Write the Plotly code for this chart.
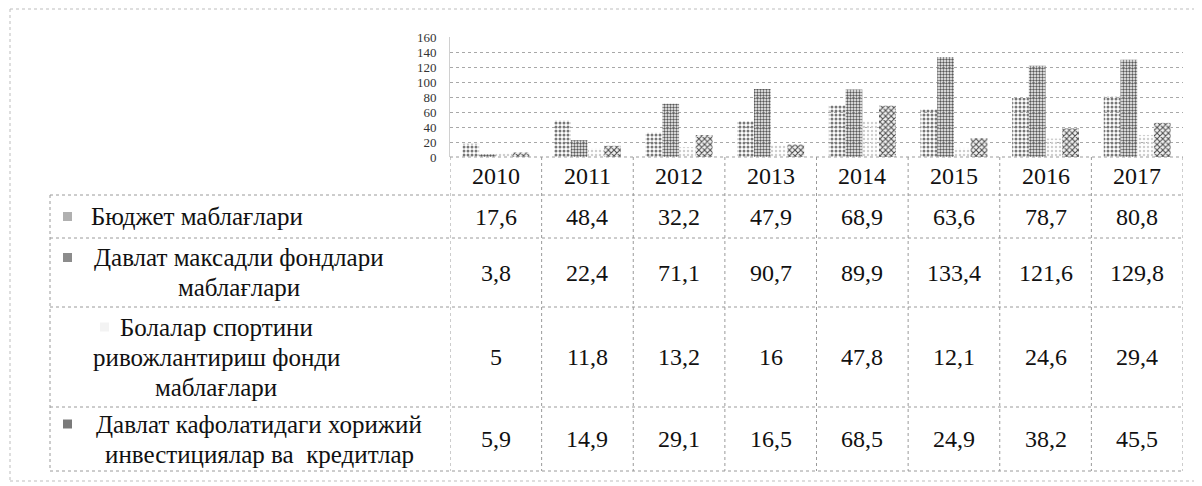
import plotly.graph_objects as go

# Daten (Mlrd. so'm)
years = ["2010", "2011", "2012", "2013", "2014", "2015", "2016", "2017"]
budget = [17.6, 48.4, 32.2, 47.9, 68.9, 63.6, 78.7, 80.8]
target_funds = [3.8, 22.4, 71.1, 90.7, 89.9, 133.4, 121.6, 129.8]
children_fund = [5, 11.8, 13.2, 16, 47.8, 12.1, 24.6, 29.4]
foreign_inv = [5.9, 14.9, 29.1, 16.5, 68.5, 24.9, 38.2, 45.5]

series_names = [
    ["Бюджет маблағлари"],
    ["Давлат максадли фондлари", "маблағлари"],
    ["Болалар спортини", "ривожлантириш фонди", "маблағлари"],
    ["Давлат кафолатидаги хорижий", "инвестициялар ва  кредитлар"],
]
series_values = [budget, target_funds, children_fund, foreign_inv]

# Layout (Pixel im Bild; die Seite hat 8px Rand)
W, H = 1202, 486
OFF = 8
def fx(px):
    return (px - OFF) / W
def fy(py):
    return 1 - (py - OFF) / H

plot_left, plot_right, plot_top, plot_bottom = 450, 1183, 37, 157
table_left = 50
row_edges = [157, 195, 238, 307, 407, 471]
label_cx = [197, 239, 216, 259]
key_x = [63, 63, 100, 63]
line_h = 30
font = "Liberation Serif"
fs_val = 24
fs_lab = 25

styles = [
    dict(color="#b0b0b0", pattern=dict(shape=".", fgcolor="#777777", size=4, solidity=0.45)),
    dict(color="#a0a0a0", pattern=dict(shape=".", fgcolor="#585858", size=3, solidity=0.5)),
    dict(color="#e2e2e2", pattern=dict(shape=".", fgcolor="#cfcfcf", size=4, solidity=0.3)),
    dict(color="#ffffff", pattern=dict(shape="x", fgcolor="#4a4a4a", bgcolor="#f2f2f2", size=4, solidity=0.45)),
]
key_colors = ["#b0b0b0", "#8c8c8c", "#f3f3f3", "#7a7a7a"]

fig = go.Figure()
for name, vals, st in zip(series_names, series_values, styles):
    fig.add_trace(go.Bar(x=years, y=vals, name=" ".join(name),
                         marker=dict(line=dict(width=0), **st), showlegend=False))

shapes = []
annotations = []
dot = dict(color="#9a9a9a", width=1, dash="dot")

# Tabelle: horizontale Linien
for i, py in enumerate(row_edges):
    x0 = plot_left if i == 0 else table_left
    shapes.append(dict(type="line", xref="paper", yref="paper", x0=fx(x0), x1=fx(plot_right),
                       y0=fy(py), y1=fy(py), line=dot))
# vertikale Linien (Kategorie-Index)
for k in range(len(years) + 1):
    shapes.append(dict(type="line", xref="x", yref="paper", x0=k - 0.5, x1=k - 0.5,
                       y0=fy(row_edges[0]), y1=fy(row_edges[-1]), line=dot))
shapes.append(dict(type="line", xref="paper", yref="paper", x0=fx(table_left), x1=fx(table_left),
                   y0=fy(row_edges[1]), y1=fy(row_edges[-1]), line=dot))
# Rahmen
frame = dict(color="#bdbdbd", width=1, dash="dot")
shapes.append(dict(type="line", xref="paper", yref="paper", x0=fx(10), x1=fx(10), y0=fy(9), y1=fy(481), line=frame))
shapes.append(dict(type="line", xref="paper", yref="paper", x0=fx(10), x1=1, y0=fy(9), y1=fy(9), line=frame))
shapes.append(dict(type="line", xref="paper", yref="paper", x0=fx(10), x1=1, y0=fy(481), y1=fy(481), line=frame))

# Kopfzeile mit Jahren
hc = (row_edges[0] + row_edges[1]) / 2
for j, yr in enumerate(years):
    annotations.append(dict(x=j, xref="x", y=fy(hc), yref="paper", text=yr, showarrow=False,
                            xanchor="center", yanchor="middle",
                            font=dict(family=font, size=fs_val, color="#111")))

# Datenzeilen
for r, (name, vals) in enumerate(zip(series_names, series_values)):
    cy = (row_edges[r + 1] + row_edges[r + 2]) / 2
    for j, v in enumerate(vals):
        annotations.append(dict(x=j, xref="x", y=fy(cy), yref="paper",
                                text=f"{v:g}".replace(".", ","), showarrow=False,
                                xanchor="center", yanchor="middle",
                                font=dict(family=font, size=fs_val, color="#111")))
    first = cy - (len(name) - 1) / 2 * line_h
    for k, line in enumerate(name):
        annotations.append(dict(x=fx(label_cx[r]), xref="paper", y=fy(first + k * line_h), yref="paper",
                                text=line.replace("  ", " &nbsp;"), showarrow=False,
                                xanchor="center", yanchor="middle",
                                font=dict(family=font, size=fs_lab, color="#111")))
    shapes.append(dict(type="rect", xref="paper", yref="paper", x0=fx(key_x[r]), x1=fx(key_x[r] + 9),
                       y0=fy(first + 4.5), y1=fy(first - 4.5), fillcolor=key_colors[r], line=dict(width=0)))

fig.update_layout(
    template="none",
    width=W, height=H, autosize=False,
    margin=dict(l=0, r=0, t=0, b=0, pad=0),
    paper_bgcolor="white", plot_bgcolor="white",
    barmode="group", bargap=0.27, bargroupgap=0,
    font=dict(family=font, color="#222"),
    xaxis=dict(domain=[fx(plot_left), fx(plot_right)], type="category", range=[-0.5, len(years) - 0.5],
               showticklabels=False, showgrid=False, zeroline=False, showline=False,
               automargin=False, ticks=""),
    yaxis=dict(domain=[fy(plot_bottom), fy(plot_top)], range=[0, 160], dtick=20,
               showgrid=True, gridcolor="#a8a8a8", griddash="dot", gridwidth=1,
               zeroline=False, showline=True, linecolor="#d0d0d0", linewidth=1,
               ticks="", ticklabelstandoff=10, automargin=False,
               tickfont=dict(family=font, size=13, color="#333")),
    shapes=shapes,
    annotations=annotations,
)

fig.write_html("out.html")
